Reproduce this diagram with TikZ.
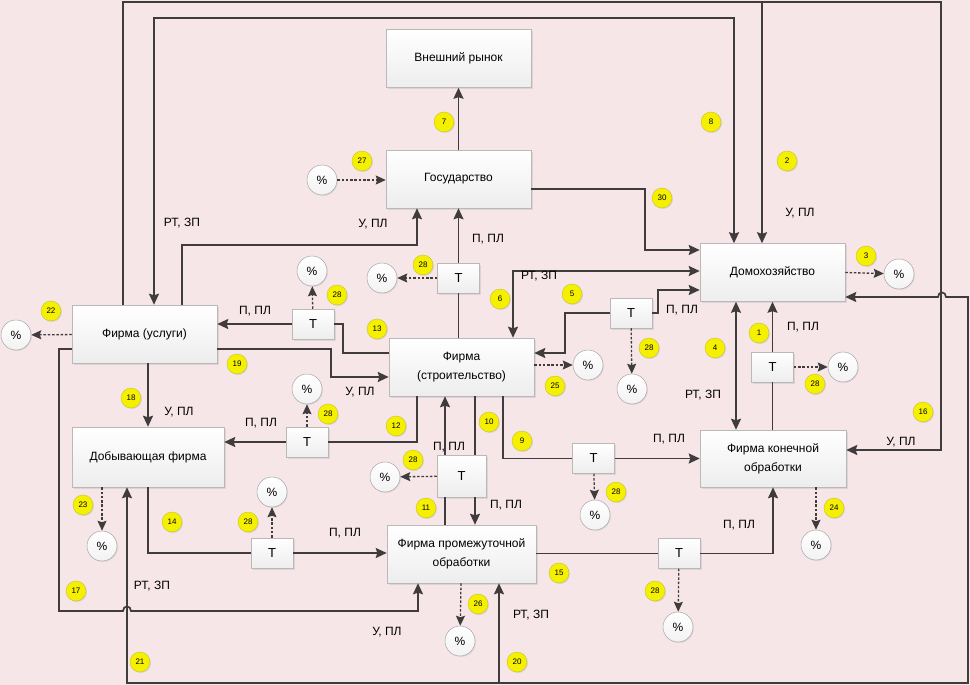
\documentclass[tikz,border=0pt]{standalone}
\usepackage{fontspec}
\setmainfont{Liberation Sans}
\usetikzlibrary{arrows.meta,shadows}
\definecolor{bgpink}{RGB}{246,230,232}
\definecolor{lc}{RGB}{64,60,62}
\definecolor{yel}{RGB}{244,240,0}

\begin{document}
\begin{tikzpicture}[x=1pt,y=-1pt,
 b/.style={draw=gray!55,line width=0.5pt,top color=white,bottom color=gray!14,inner sep=0pt,align=center,minimum width=145pt,minimum height=58pt,font=\fontsize{12}{19}\selectfont,drop shadow={opacity=0.18,shadow xshift=1.5pt,shadow yshift=-1.5pt}},
 tb/.style={b,minimum width=42pt,minimum height=30pt,font=\fontsize{13}{13}\selectfont},
 pc/.style={circle,draw=gray!70,line width=0.5pt,top color=white,bottom color=gray!10,minimum size=30pt,inner sep=0pt,font=\fontsize{12}{12}\selectfont,drop shadow={opacity=0.15,shadow xshift=1pt,shadow yshift=-1pt}},
 num/.style={circle,draw=yel!60!gray,line width=0.4pt,fill=yel,minimum size=20pt,inner sep=0pt,font=\fontsize{8}{8}\selectfont,drop shadow={opacity=0.2,shadow xshift=1pt,shadow yshift=-1pt}},
 lb/.style={inner sep=0pt,font=\fontsize{12}{12}\selectfont},
 cn/.style={lc,line width=1.7pt},
 dsh/.style={lc,line width=1.3pt,dash pattern=on 2.5pt off 1.8pt,>={Stealth[length=10pt,width=9pt,inset=1.5pt]}},
 >={Stealth[length=11pt,width=10pt,inset=1.5pt]}]
\fill[bgpink] (0,0) rectangle (970,685);
\useasboundingbox (0,0) rectangle (970,685);

\node[b] (ryn) at (458.5,58.5) {Внешний рынок};
\node[b] (gov) at (458.5,179) {Государство};
\node[b] (dom) at (772.5,272.5) {Домохозяйство};
\node[b] (usl) at (144.5,334) {Фирма (услуги)};
\node[b] (str) at (461.5,367) {Фирма\\(строительство)};
\node[b,minimum width=152pt,minimum height=60pt] (dob) at (148,457) {Добывающая фирма};
\node[b,minimum width=146pt,minimum height=57pt] (kon) at (773,458.5) {Фирма конечной\\обработки};
\node[b,minimum width=149pt] (prom) at (461.5,554) {Фирма промежуточной\\обработки};

\node[tb] (t1) at (458.5,278) {Т};
\node[tb] (t2) at (313,324) {Т};
\node[tb] (t3) at (631,313) {Т};
\node[tb] (t4) at (772.5,367) {Т};
\node[tb] (t5) at (307,442) {Т};
\node[tb,minimum width=49pt,minimum height=42pt] (t6) at (461.5,476) {Т};
\node[tb] (t7) at (593.5,458.5) {Т};
\node[tb] (t8) at (272,553) {Т};
\node[tb] (t9) at (679,553.5) {Т};

\node[pc] (p27) at (322,180) {\%};
\node[pc] (p1) at (382,278) {\%};
\node[pc] (p2) at (312,271) {\%};
\node[pc] (p3) at (899,274) {\%};
\node[pc] (p22) at (16,335) {\%};
\node[pc] (p25) at (588,365) {\%};
\node[pc] (p5) at (632,389) {\%};
\node[pc] (p4) at (843,367) {\%};
\node[pc] (p12) at (307,389) {\%};
\node[pc] (p11) at (385,477) {\%};
\node[pc] (p9) at (595,515) {\%};
\node[pc] (p23) at (102,546) {\%};
\node[pc] (p14) at (272,492) {\%};
\node[pc] (p24) at (816,545) {\%};
\node[pc] (p26) at (460,641) {\%};
\node[pc] (p15) at (678,627) {\%};

\begin{scope}[cn]
\draw[->] (gov) -- (ryn);
\draw (t1 |- str.north) -- (t1); \draw[->] (t1) -- (t1 |- gov.south);
\draw[->] ([yshift=-10pt]gov.east) -- (645,189) |- ([yshift=22.5pt]dom.west);
\draw[<->] ([xshift=-38.5pt]dom.north) -- (734,18) -- (154,18) -- ([xshift=9.5pt]usl.north);
\draw[->] ([xshift=-21.5pt]usl.north) -- (123,2) -- (941,2) |- ([yshift=8.5pt]kon.east);
\draw[->] (762,2) -- ([xshift=-10.5pt]dom.north);
\draw[->] ([xshift=37.5pt]usl.north) -- (182,245) -| ([xshift=-41.5pt]gov.south);
\draw[<->] ([yshift=-24.5pt]dom.east) -- (938,297) .. controls (938,291) and (946,291) .. (946,297) -- (968,297) -- (968,683) -- (127,683) -- ([xshift=-21pt]dob.south);
\draw[->] (499,683) -- ([xshift=37.5pt]prom.south);
\draw[->] ([yshift=-15pt]usl.west) -- (59,349) -- (59,611) -- (123,611) .. controls (123,605) and (131,605) .. (131,611) -- (418,611) -- ([xshift=-43.5pt]prom.south);
\draw[->] (usl.south -| dob.north) -- (dob);
\draw[->] ([yshift=-15pt]usl.east) -- (331,349) |- ([yshift=-10pt]str.west);
\draw ([yshift=14pt]str.west) -- (343,353) |- (t2); \draw[->] (t2) -- (t2 -| usl.east);
\draw ([xshift=-44.5pt]str.south) |- (t5); \draw[->] (t5) -- (t5 -| dob.east);
\draw ([xshift=-16.5pt]prom.north) -- ([xshift=-16.5pt]t6.south); \draw[->] ([xshift=-16.5pt]t6.north) -- ([xshift=-16.5pt]str.south);
\draw ([xshift=13.5pt]str.south) -- ([xshift=13.5pt]t6.north); \draw[->] ([xshift=13.5pt]t6.south) -- ([xshift=13.5pt]prom.north);
\draw ([xshift=41.5pt]str.south) |- (t7); \draw[->] (t7) -- (t7 -| kon.west);
\draw (dob.south) |- (t8); \draw[->] (t8) -- (t8 -| prom.west);
\draw (prom.east |- t9) -- (t9); \draw[->] (t9) -| (kon.south);
\draw (kon.north -| t4) -- (t4); \draw[->] (t4) -- (t4 |- dom.south);
\draw[<->] ([xshift=-36.5pt]dom.south) -- ([xshift=-37pt]kon.north);
\draw[<->] ([yshift=1.5pt]dom.west) -- (513,271) -- ([xshift=51.5pt]str.north);
\draw[->] (t3) -- (565,313) -- (565,353) -- ([yshift=14pt]str.east);
\draw[->] (t3) -- (658,313) |- ([yshift=-17.5pt]dom.west);
\end{scope}

\draw[dsh,->] (p27) -- (p27 -| gov.west);
\draw[dsh,->] (t1) -- (p1);
\draw[dsh,->] (t2) -- (p2);
\draw[dsh,->] (dom.east) -- (p3);
\draw[dsh,->] (usl) -- (p22);
\draw[dsh,->] (str.east |- p25) -- (p25);
\draw[dsh,->] (t3) -- (p5);
\draw[dsh,->] (t4) -- (p4);
\draw[dsh,->] (t5) -- (p12);
\draw[dsh,->] (t6) -- (p11);
\draw[dsh,->] (t7) -- (p9);
\draw[dsh,->] (dob.south -| p23) -- (p23);
\draw[dsh,->] (t8) -- (p14);
\draw[dsh,->] (kon.south -| p24) -- (p24);
\draw[dsh,->] (prom) -- (p26);
\draw[dsh,->] (t9) -- (p15);

\node[lb] (l1) at (182,223) {РТ, ЗП};
\node[lb] (l2) at (373,224) {У, ПЛ};
\node[lb] (l3) at (488,239) {П, ПЛ};
\node[lb] (l4) at (800,213) {У, ПЛ};
\node[lb] (l5) at (539,276) {РТ, ЗП};
\node[lb] (l6) at (682,310) {П, ПЛ};
\node[lb] (l7) at (803,327) {П, ПЛ};
\node[lb] (l8) at (703,395) {РТ, ЗП};
\node[lb] (l9) at (669,439) {П, ПЛ};
\node[lb] (l10) at (901,442) {У, ПЛ};
\node[lb] (l11) at (255,311) {П, ПЛ};
\node[lb] (l12) at (360,392) {У, ПЛ};
\node[lb] (l13) at (179,412) {У, ПЛ};
\node[lb] (l14) at (261,423) {П, ПЛ};
\node[lb] (l15) at (449,447) {П, ПЛ};
\node[lb] (l16) at (506,505) {П, ПЛ};
\node[lb] (l17) at (345,533) {П, ПЛ};
\node[lb] (l18) at (152,586) {РТ, ЗП};
\node[lb] (l19) at (387,632) {У, ПЛ};
\node[lb] (l20) at (739,525) {П, ПЛ};
\node[lb] (l21) at (531,615) {РТ, ЗП};

\node[num] (n1) at (759,333) {1}; \node[num] (n2) at (787,161) {2};
\node[num] (n3) at (866,256) {3}; \node[num] (n4) at (715,348) {4};
\node[num] (n5) at (572,294) {5}; \node[num] (n6) at (500,299) {6};
\node[num] (n7) at (444,122) {7}; \node[num] (n8) at (711,122) {8};
\node[num] (n9) at (522,441) {9}; \node[num] (n10) at (489,422) {10};
\node[num] (n11) at (426,508) {11}; \node[num] (n12) at (396,426) {12};
\node[num] (n13) at (377,329) {13}; \node[num] (n14) at (172,522) {14};
\node[num] (n15) at (559,573) {15}; \node[num] (n16) at (923,412) {16};
\node[num] (n17) at (76,591) {17}; \node[num] (n18) at (131,398) {18};
\node[num] (n19) at (237,364) {19}; \node[num] (n20) at (517,662) {20};
\node[num] (n21) at (140,662) {21}; \node[num] (n22) at (51,311) {22};
\node[num] (n23) at (83,505) {23}; \node[num] (n24) at (834,508) {24};
\node[num] (n25) at (555,386) {25}; \node[num] (n26) at (478,604) {26};
\node[num] (n27) at (362,161) {27}; \node[num] (n30) at (662,198) {30};
\node[num] (n28a) at (423,265) {28}; \node[num] (n28b) at (337,295) {28};
\node[num] (n28c) at (649,348) {28}; \node[num] (n28d) at (815,384) {28};
\node[num] (n28e) at (328,414) {28}; \node[num] (n28f) at (413,460) {28};
\node[num] (n28g) at (616,492) {28}; \node[num] (n28h) at (248,522) {28};
\node[num] (n28i) at (655,591) {28};
\end{tikzpicture}
\end{document}
